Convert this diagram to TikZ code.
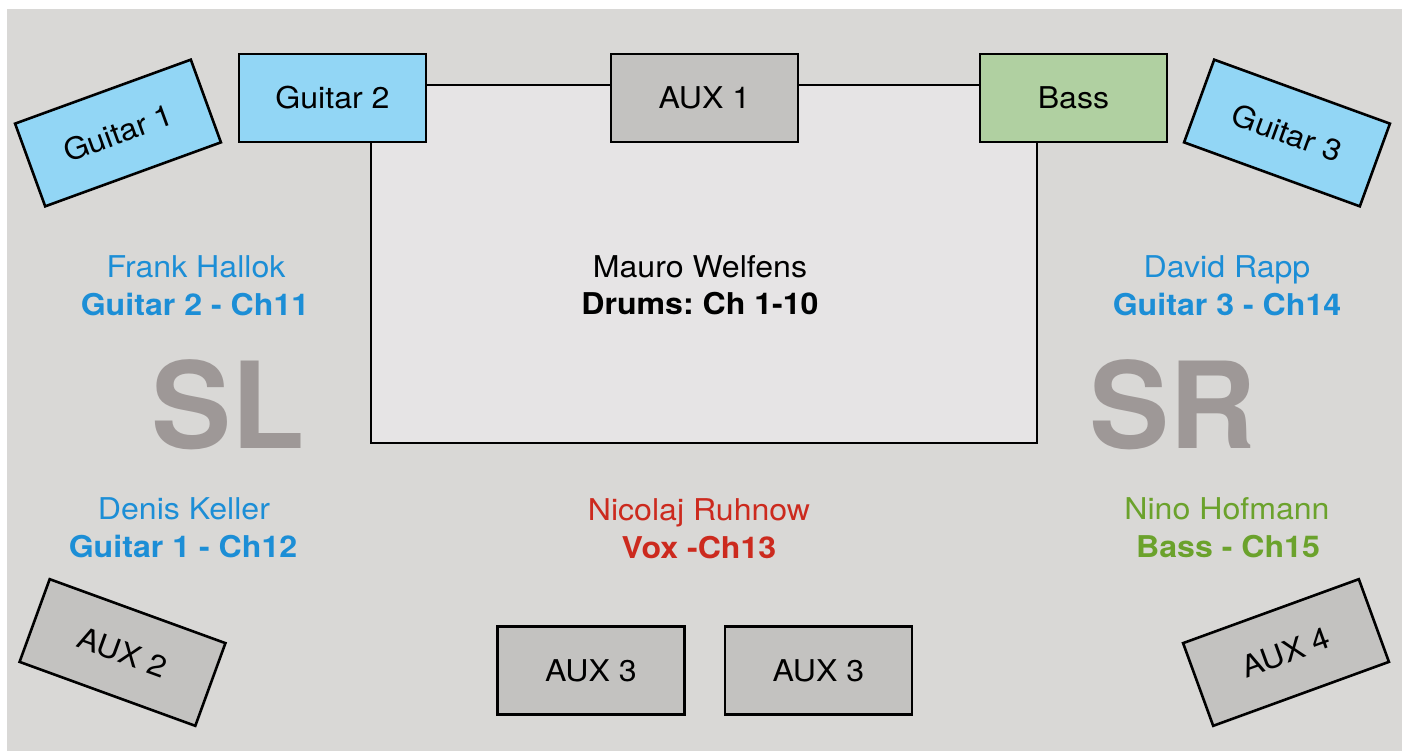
\documentclass[tikz,border=0pt]{standalone}
\usepackage{fontspec}
\setmainfont{TeX Gyre Heros}[FakeStretch=1.07]
\newfontfamily\sidefont{TeX Gyre Heros}
\usepackage{tikz}
\usetikzlibrary{positioning}
\frenchspacing

\definecolor{stagebg}{HTML}{D9D8D6}
\definecolor{riserfill}{HTML}{E6E4E5}
\definecolor{auxfill}{HTML}{C3C2C0}
\definecolor{gtrfill}{HTML}{92D6F5}
\definecolor{bassfill}{HTML}{B0D0A1}
\definecolor{gtrtext}{HTML}{1C8ED6}
\definecolor{voxtext}{HTML}{CC2A1E}
\definecolor{basstext}{HTML}{6BA22C}
\definecolor{sidetext}{HTML}{9E9897}

\begin{document}
\begin{tikzpicture}[x=1pt, y=-1pt,
	wedge/.style={draw, line width=2.6pt, minimum width=187pt, minimum height=88pt, inner sep=0pt, font=\fontsize{30}{34}\selectfont},
	aux/.style={wedge, fill=auxfill},
	gtr/.style={wedge, fill=gtrfill},
	bassamp/.style={wedge, fill=bassfill},
	player/.style={anchor=base, inner sep=0pt, font=\fontsize{30}{36}\selectfont},
	chan/.style={player, font=\fontsize{30}{36}\selectfont\bfseries},
	side/.style={anchor=base, inner sep=0pt, text=sidetext, font=\sidefont\fontsize{120}{140}\selectfont\bfseries}]
	
	\useasboundingbox (0,0) rectangle (1407,751);
	\fill[stagebg] (7,9) rectangle (1402,751);
	
	% Drum riser
	\node[draw, line width=2pt, fill=riserfill, minimum width=666pt, minimum height=358pt, inner sep=0pt] (riser) at (704,264) {};
	
	% Monitors and amps
	\node[gtr] (g2) at (332.5,98) {Guitar 2};
	\node[aux] (aux1) at (704.5,98) {AUX 1};
	\node[bassamp] (bass) at (1073.5,98) {Bass};
	\node[gtr, rotate=20] (g1) at (118,133) {Guitar 1};
	\node[gtr, rotate=-20] (g3) at (1287,133) {Guitar 3};
	\node[aux, rotate=-20] (aux2) at (122.5,652.5) {AUX 2};
	\node[aux, rotate=20] (aux4) at (1286,652.5) {AUX 4};
	\node[aux] (aux3a) at (591,670.5) {AUX 3};
	\node[aux] (aux3b) at (818.5,670.5) {AUX 3};
	
	% Players
	\node[player, text=gtrtext] (frank) at (196,277) {Frank Hallok};
	\node[chan, text=gtrtext] (frankch) at (195,315) {Guitar 2 - Ch11};
	\node[player] (mauro) at (700,277) {Mauro Welfens};
	\node[chan] (maurosch) at (700,314) {Drums: Ch 1-10};
	\node[player, text=gtrtext] (david) at (1227,277) {David Rapp};
	\node[chan, text=gtrtext] (davidch) at (1227,315) {Guitar 3 - Ch14};
	\node[player, text=gtrtext] (denis) at (184,519) {Denis Keller};
	\node[chan, text=gtrtext] (denisch) at (183,557) {Guitar 1 - Ch12};
	\node[player, text=voxtext] (nicolaj) at (699,520) {Nicolaj Ruhnow};
	\node[chan, text=voxtext] (nicolajch) at (699,558) {Vox -Ch13};
	\node[player, text=basstext] (nino) at (1227,519) {Nino Hofmann};
	\node[chan, text=basstext] (ninoch) at (1228,557) {Bass - Ch15};
	
	% Stage sides
	\node[side] (sl) at (228,448) {SL};
	\node[side] (sr) at (1173,448) {SR};
	
\end{tikzpicture}
\end{document}
